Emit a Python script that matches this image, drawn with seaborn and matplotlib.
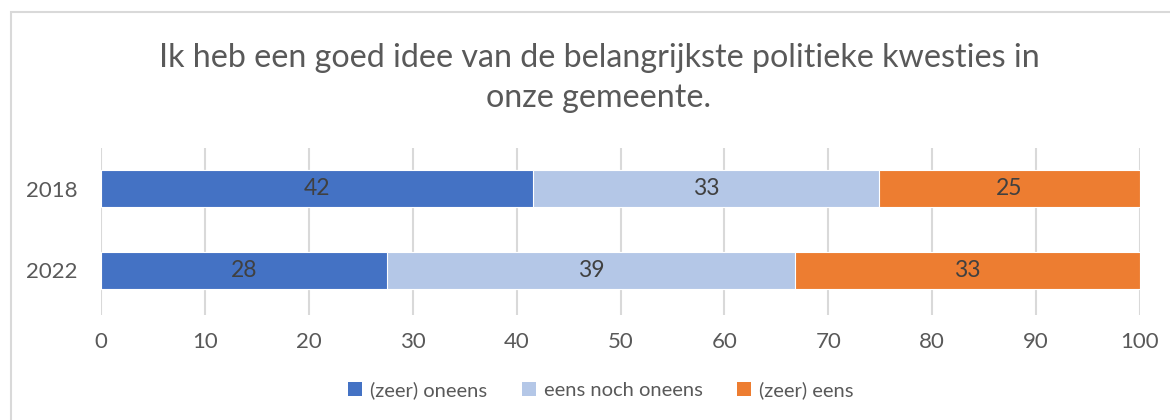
import matplotlib
matplotlib.use("Agg")
import matplotlib.pyplot as plt
import seaborn as sns
import pandas as pd
import numpy as np
from matplotlib.patches import Rectangle, Patch

years = ["2018", "2022"]
series = ["(zeer) oneens", "eens noch oneens", "(zeer) eens"]
oneens = [41.6, 27.5]
neutraal = [33.3, 39.3]
eens = [25.1, 33.2]
colors = ["#4472C4", "#B4C7E7", "#ED7D31"]
title = "Ik heb een goed idee van de belangrijkste politieke kwesties in\nonze gemeente."
xticks = [0, 10, 20, 30, 40, 50, 60, 70, 80, 90, 100]

sns.set_theme(style="white")
plt.rcParams['font.family'] = ['Lato', 'DejaVu Sans']
txt = "#595959"

fig = plt.figure(figsize=(11.7, 4.2), dpi=100)
ax = fig.add_axes([101/1170, 1-315/420, (1140-101)/1170, (315-148)/420])

vals = [oneens, neutraal, eens]
cum = np.cumsum(np.array(vals), axis=0)
df = pd.DataFrame({"year": years})
for i in reversed(range(3)):
    df["c"] = cum[i]
    sns.barplot(data=df, x="c", y="year", order=years, orient="h", color=colors[i],
                width=0.45, edgecolor="white", linewidth=0.8, ax=ax, saturation=1, zorder=3)

for i in range(3):
    for j in range(len(years)):
        start = cum[i][j] - vals[i][j]
        ax.text(start + vals[i][j] / 2, j, f"{round(vals[i][j])}", ha="center", va="center",
                fontsize=16.5, color="#404040", zorder=5)

ax.set_xlim(0, 100)
ax.set_ylim(1 + 44.5/82, -40.5/82)
ax.set_xticks(xticks)
ax.set_xticklabels([str(t) for t in xticks])
ax.grid(axis="x", color="#d9d9d9", linewidth=1.5, zorder=0)
ax.set_axisbelow(True)
for s in ax.spines.values():
    s.set_visible(False)
ax.tick_params(axis="x", length=0, pad=12, labelsize=16, labelcolor=txt)
ax.tick_params(axis="y", length=0, pad=17, labelsize=16, labelcolor=txt)
ax.set_xlabel("")
ax.set_ylabel("")

fig.text(599/1170, 1-78/420, title, ha="center", va="center", fontsize=23.2, color=txt,
         linespacing=1.42)

handles = [Patch(facecolor=c, edgecolor="none") for c in colors]
fig.legend(handles, series, loc="center", bbox_to_anchor=(601/1170, 1-390/420), ncol=3,
           frameon=False, fontsize=14.5, labelcolor=txt, handlelength=0.7, handleheight=0.7,
           handletextpad=0.4, columnspacing=1.7)

fig.patches.append(Rectangle((11/1170, -0.1), 1.2, 1 - 12/420 + 0.1, transform=fig.transFigure,
                             fill=False, edgecolor="#d9d9d9", linewidth=1.5, zorder=0))

fig.savefig("out.png", dpi=100)
